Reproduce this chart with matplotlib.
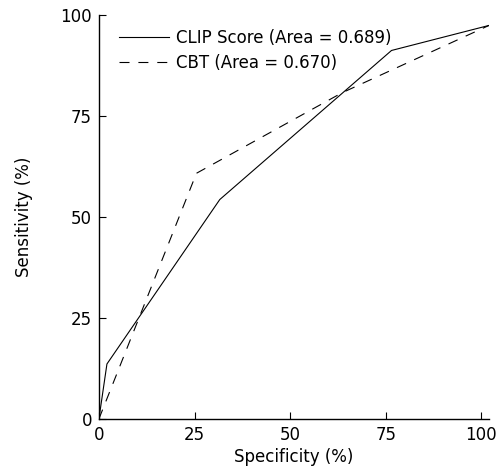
import matplotlib
matplotlib.use("Agg")
import matplotlib.pyplot as plt

# ROC points (specificity axis, sensitivity in %)
clip_x = [0, 2.1, 31.6, 76.5, 102]
clip_y = [0, 13.6, 54.3, 91.2, 97.4]
cbt_x = [0, 25.5, 63.5, 102]
cbt_y = [0, 60.8, 80.7, 97.4]

clip_label = "CLIP Score (Area = 0.689)"
cbt_label = "CBT (Area = 0.670)"
ticks = [0, 25, 50, 75, 100]

plt.rcParams['font.family'] = ['DejaVu Sans']

fig = plt.figure(figsize=(4.97, 4.66), dpi=100)
ax = fig.add_axes([0.199, 0.101, 0.785, 0.867])

ax.plot(clip_x, clip_y, color="k", lw=0.8, label=clip_label)
ax.plot(cbt_x, cbt_y, color="k", lw=0.8, dashes=(9, 8), label=cbt_label)

ax.set_xlim(0, 102)
ax.set_ylim(0, 100)
ax.set_xticks(ticks)
ax.set_yticks(ticks)
ax.tick_params(direction="in", length=5, width=0.8, labelsize=12, pad=5)

for side in ["top", "right"]:
    ax.spines[side].set_visible(False)
for side in ["left", "bottom"]:
    ax.spines[side].set_linewidth(1.0)

ax.set_xlabel("Specificity (%)", fontsize=12, labelpad=3)
ax.set_ylabel("Sensitivity (%)", fontsize=12, labelpad=20)

ax.legend(loc="upper left", bbox_to_anchor=(0.025, 0.99), frameon=False,
          fontsize=12, handlelength=3.0, handletextpad=0.45, labelspacing=0.42,
          borderaxespad=0.2)

plt.savefig("out.png", dpi=100)
